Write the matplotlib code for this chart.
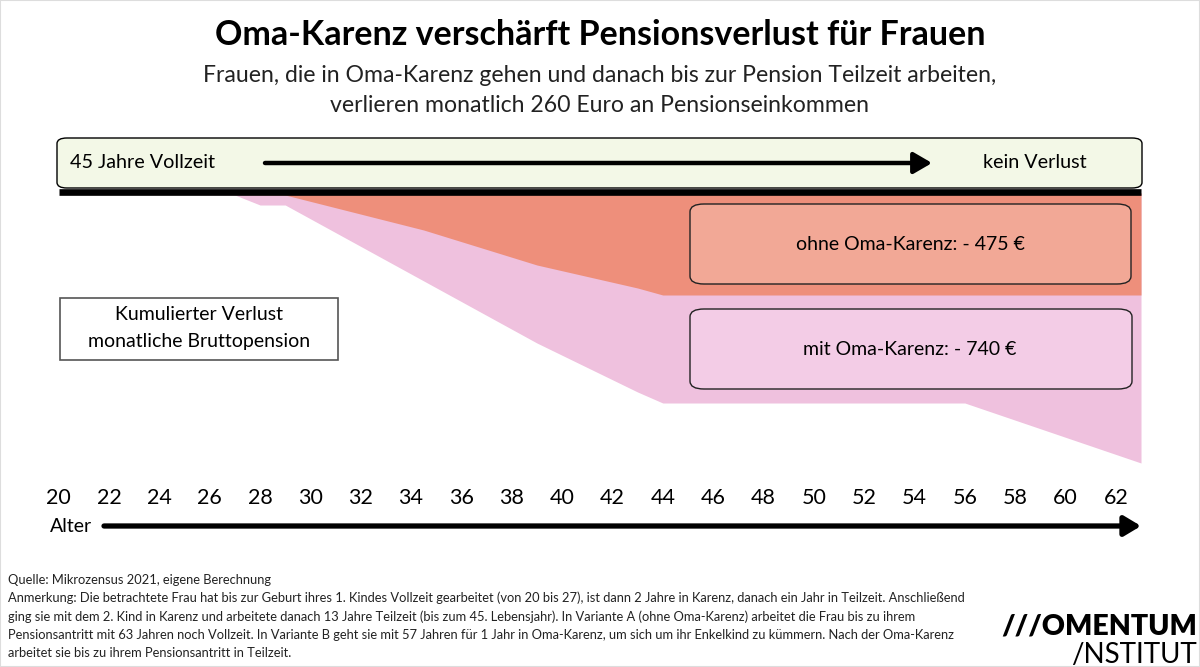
import matplotlib.pyplot as plt
from matplotlib.patches import FancyBboxPatch, Rectangle, FancyArrowPatch

# cumulative loss of monthly gross pension (chart units)
ages_mit = [20, 27, 28, 29, 39, 43, 44, 56, 63]
verlust_mit = [0, -2, -12, -12, -150, -199, -210, -210, -270]
ages_ohne = [20, 29, 34.5, 39, 43, 44, 63]
verlust_ohne = [0, -2, -37, -72, -95, -102, -102]
tick_ages = list(range(20, 63, 2))

label_ohne = "ohne Oma-Karenz: - 475 €"
label_mit = "mit Oma-Karenz: - 740 €"

W, H = 1200, 667
FONT = "Lato"
plt.rcParams["font.family"] = [FONT, "DejaVu Sans"]

# pixel helpers
def fx(x):
    return x / W

def fy(y):
    return 1 - y / H

def age_at(x):
    return 20 + (x - 58.7) / 25.17

fig = plt.figure(figsize=(12, 6.67), dpi=100)
ax = fig.add_axes([0, 0, 1, 1])
ax.set_xlim(age_at(0), age_at(W))
ax.set_ylim(193 - H, 193)
ax.axis("off")

# areas
ax.fill_between(ages_mit, verlust_mit, 0, color="#efc1de", lw=0, zorder=1)
ax.fill_between(ages_ohne, verlust_ohne, 0, color="#ee8f7b", lw=0, zorder=2)
ax.plot([20, 63], [1.5, 1.5], color="black", lw=4.8, solid_capstyle="butt", zorder=3)

# title
fig.text(0.5, fy(35), "Oma-Karenz verschärft Pensionsverlust für Frauen",
         ha="center", va="center", fontsize=24.5, fontweight="bold", color="black")
fig.text(0.5, fy(75), "Frauen, die in Oma-Karenz gehen und danach bis zur Pension Teilzeit arbeiten,",
         ha="center", va="center", fontsize=16.6, color="#222222")
fig.text(0.5, fy(105), "verlieren monatlich 260 Euro an Pensionseinkommen",
         ha="center", va="center", fontsize=16.6, color="#222222")

# rounded boxes in pixel coords
def rbox(x0, y0, x1, y1, fc, ec="black", r=10, lw=1.0, z=4):
    p = FancyBboxPatch((fx(x0), fy(y1)), fx(x1 - x0), (y1 - y0) / H,
                       boxstyle="round,pad=0,rounding_size=%f" % (r / W),
                       transform=fig.transFigure, fc=fc, ec=ec, lw=lw, zorder=z)
    fig.add_artist(p)

def arrow(x0, x1, y, lw, hl, hw):
    a = FancyArrowPatch((fx(x0), fy(y)), (fx(x1), fy(y)), transform=fig.transFigure,
                        arrowstyle="-|>,head_length=%f,head_width=%f" % (hl, hw),
                        mutation_scale=20, lw=lw, color="black",
                        shrinkA=0, shrinkB=0, zorder=6)
    fig.add_artist(a)

rbox(57, 138, 1142, 188, "#f3f8e7", r=10)
fig.text(fx(70), fy(163), "45 Jahre Vollzeit", ha="left", va="center",
         fontsize=14.2, zorder=5)
fig.text(fx(1035), fy(163), "kein Verlust", ha="center", va="center",
         fontsize=14.2, zorder=5)
arrow(265, 932, 163, 3.2, 0.55, 0.32)

# result boxes
rbox(690, 204, 1131, 284, "#f2a896", ec="#222222", r=14)
fig.text(fx(910), fy(244), label_ohne, ha="center", va="center", fontsize=14, zorder=5)
rbox(690, 309, 1132, 389, "#f3cce6", ec="#222222", r=14)
fig.text(fx(910), fy(350), label_mit, ha="center", va="center", fontsize=14, zorder=5)

# legend-ish box
fig.add_artist(Rectangle((fx(60), fy(360)), fx(278), 62 / H, transform=fig.transFigure,
                         fc="white", ec="#555555", lw=1.2, zorder=4))
fig.text(fx(199), fy(315), "Kumulierter Verlust", ha="center", va="center",
         fontsize=14, zorder=5)
fig.text(fx(199), fy(341), "monatliche Bruttopension", ha="center", va="center",
         fontsize=14, zorder=5)

# x axis labels and arrow
for a in tick_ages:
    ax.text(a, 193 - 498, str(a), ha="center", va="center", fontsize=15.5)
fig.text(fx(50), fy(527), "Alter", ha="left", va="center", fontsize=14)
arrow(104, 1141, 526, 3.8, 0.5, 0.3)

# footer
notes = [
    "Quelle: Mikrozensus 2021, eigene Berechnung",
    "Anmerkung: Die betrachtete Frau hat bis zur Geburt ihres 1. Kindes Vollzeit gearbeitet (von 20 bis 27), ist dann 2 Jahre in Karenz, danach ein Jahr in Teilzeit. Anschließend",
    "ging sie mit dem 2. Kind in Karenz und arbeitete danach 13 Jahre Teilzeit (bis zum 45. Lebensjahr). In Variante A (ohne Oma-Karenz) arbeitet die Frau bis zu ihrem",
    "Pensionsantritt mit 63 Jahren noch Vollzeit. In Variante B geht sie mit 57 Jahren für 1 Jahr in Oma-Karenz, um sich um ihr Enkelkind zu kümmern. Nach der Oma-Karenz",
    "arbeitet sie bis zu ihrem Pensionsantritt in Teilzeit.",
]
for i, line in enumerate(notes):
    fig.text(fx(8), fy(580 + i * 18.2), line, ha="left", va="center",
             fontsize=9.3, color="#222222")

fig.text(fx(1197), fy(627), "///OMENTUM", ha="right", va="center",
         fontsize=20.5, fontweight="heavy")
fig.text(fx(1197), fy(655), "/NSTITUT", ha="right", va="center",
         fontsize=20)

fig.add_artist(Rectangle((0, 0), 1, 1, transform=fig.transFigure, fill=False,
                         ec="#dddddd", lw=1.5))

fig.savefig("out.png", dpi=100)
